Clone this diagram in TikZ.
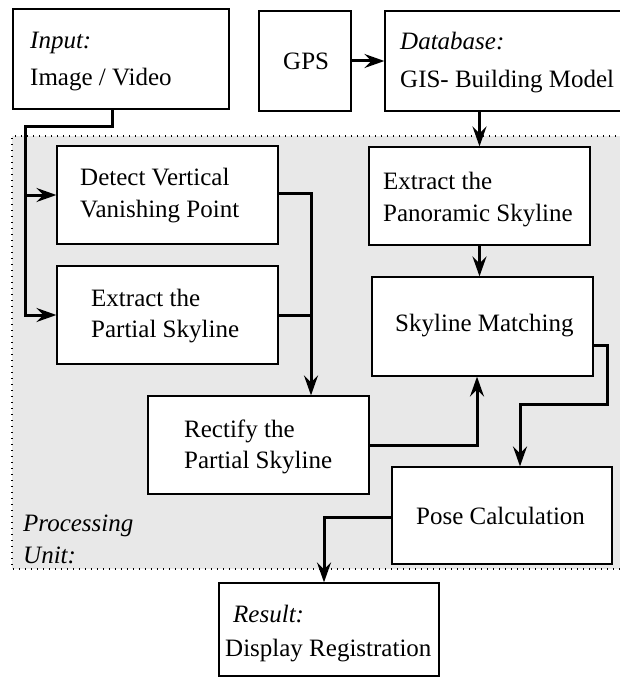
\documentclass[tikz,border=0pt]{standalone}
\usepackage{fontspec}
\setmainfont{Liberation Serif}
\usetikzlibrary{arrows.meta,calc}
\begin{document}
\begin{tikzpicture}[x=1pt,y=-1pt,
  box/.style={draw=black,line width=1.2pt,fill=white,inner sep=0pt},
  conn/.style={line width=3pt,line join=miter},
  arr/.style={conn,-{Stealth[length=20pt,width=14pt,inset=7pt]}},
  txt/.style={anchor=base west,inner sep=0pt,font=\fontsize{25}{30}\selectfont},
  itxt/.style={anchor=base west,inner sep=0pt,font=\fontsize{25}{30}\selectfont\itshape}]
\useasboundingbox (0,0) rectangle (620,677);
% processing unit region
\path[fill={rgb,255:red,232;green,232;blue,232}] (12,136) rectangle (640,569);
\draw[line width=1.2pt,dash pattern=on 1.2pt off 4.8pt] (640,136) -- (12,136) -- (12,569) -- (640,569);
% boxes
\node[box,minimum width=216pt,minimum height=100pt] (input) at (121,59) {};
\node[box,minimum width=92pt,minimum height=100pt] (gps) at (305,61) {};
\node[box,minimum width=245pt,minimum height=100pt] (db) at (507.5,61) {};
\node[box,minimum width=221pt,minimum height=98pt] (detect) at (167.5,195) {};
\node[box,minimum width=221pt,minimum height=98pt] (extpart) at (167.5,315) {};
\node[box,minimum width=221pt,minimum height=98pt] (pano) at (479.5,196) {};
\node[box,minimum width=221pt,minimum height=99pt] (match) at (482.5,326.5) {};
\node[box,minimum width=221pt,minimum height=98pt] (rect) at (258.5,445) {};
\node[box,minimum width=220pt,minimum height=97pt] (pose) at (502,515.5) {};
\node[box,minimum width=220pt,minimum height=93pt] (result) at (329,629.5) {};
% texts
\node[itxt] (t1) at (30,48.5) {Input:};
\node[txt] (t2) at (30,85) {Image / Video};
\node[txt] (t3) at (283,70) {GPS};
\node[itxt] (t4) at (400,50) {Database:};
\node[txt] (t5) at (400,88) {GIS- Building Model};
\node[txt] (t6) at (80,185) {Detect Vertical};
\node[txt] (t7) at (80,217) {Vanishing Point};
\node[txt] (t8) at (91,306.5) {Extract the};
\node[txt] (t9) at (91,337) {Partial Skyline};
\node[txt] (t10) at (383,189) {Extract the};
\node[txt] (t11) at (383,221.5) {Panoramic Skyline};
\node[txt] (t12) at (395,331.5) {Skyline Matching};
\node[txt] (t13) at (184,437.5) {Rectify the};
\node[txt] (t14) at (184,468.5) {Partial Skyline};
\node[txt] (t15) at (416,524.5) {Pose Calculation};
\node[itxt] (t16) at (233,622.5) {Result:};
\node[txt] (t17) at (225,656.5) {Display Registration};
\node[itxt] (t18) at (23,531.5) {Processing};
\node[itxt] (t19) at (23,563.5) {Unit:};
% bend coordinates
\coordinate (b1) at (112,126);
\coordinate (b2) at (25,126);
\coordinate (c1) at (311,193);
\coordinate (c2) at (477,444);
\coordinate (c3) at (607,345);
\coordinate (c4) at (520,404);
\coordinate (c5) at (324,517);
% connectors
\draw[arr] (input.south -| b1) -- (b1) -- (b2) |- (extpart.west);
\draw[arr] (b2 |- detect.west) -- (detect.west);
\draw[arr] (gps.east) -- (db.west);
\draw[arr] (pano.north |- db.south) -- (pano.north);
\draw[arr] (detect.east |- c1) -- (c1) -- (c1 |- rect.north);
\draw[conn] (extpart.east) -- (extpart.east -| c1);
\draw[arr] (pano.south) -- (pano.south |- match.north);
\draw[arr] (rect.east) -- (rect.east -| c2) -- (c2 |- match.south);
\draw[arr] (match.east |- c3) -- (c3) -- (c3 |- c4) -- (c4) -- (c4 |- pose.north);
\draw[arr] (pose.west |- c5) -- (c5) -- (c5 |- result.north);
\end{tikzpicture}
\end{document}
